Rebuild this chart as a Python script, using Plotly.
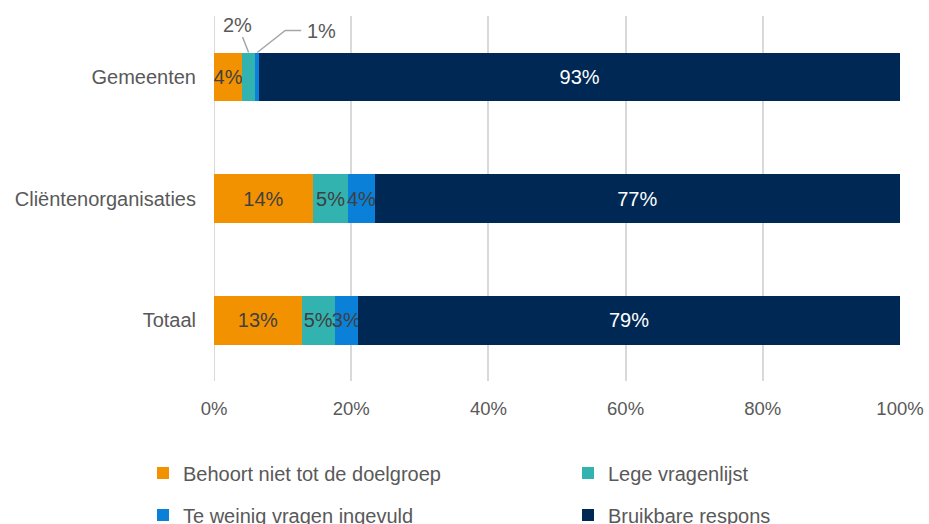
import plotly.graph_objects as go

# data (percentages)
categories = ['Gemeenten', 'Cliëntenorganisaties', 'Totaal']
behoort_niet = [4.1, 14.4, 12.8]
lege_lijst = [1.9, 5.2, 4.8]
te_weinig = [0.6, 3.8, 3.4]
bruikbaar = [93.4, 76.6, 79.0]

series = [
    ('Behoort niet tot de doelgroep', behoort_niet, '#F39200', '#404040', 'legend'),
    ('Lege vragenlijst', lege_lijst, '#33B3AF', '#404040', 'legend2'),
    ('Te weinig vragen ingevuld', te_weinig, '#0A80D8', '#404040', 'legend3'),
    ('Bruikbare respons', bruikbaar, '#002855', '#FFFFFF', 'legend4'),
]

FONT = 'Liberation Sans, Arial, sans-serif'
GREY = '#595959'
LINE = '#A6A6A6'

fig = go.Figure()
for name, vals, color, txtcolor, leg in series:
    # tiny Gemeenten segments get callout labels instead of inside text
    labels = []
    for cat, v in zip(categories, vals):
        if cat == 'Gemeenten' and v < 3:
            labels.append('')
        else:
            labels.append(f'{round(v)}%')
    fig.add_trace(go.Bar(
        y=categories,
        x=vals,
        name=name,
        orientation='h',
        marker_color=color,
        marker_line_width=0,
        text=labels,
        textposition='inside',
        insidetextanchor='middle',
        textangle=0,
        constraintext='none',
        textfont=dict(size=20, color=txtcolor, family=FONT),
        legend=leg,
        hoverinfo='skip',
    ))

# callouts for the small Gemeenten segments
x_lege = behoort_niet[0] + lege_lijst[0] / 2
x_weinig = behoort_niet[0] + lege_lijst[0] + te_weinig[0] / 2
fig.add_annotation(x=x_lege, y=-0.2, text=f'{round(lege_lijst[0])}%',
                   showarrow=True, arrowhead=0, arrowwidth=1.5, arrowcolor=LINE,
                   ax=-11, ay=-28, font=dict(size=20, color=GREY, family=FONT))
# elbow leader line for the 1% label
fig.add_shape(type='path', xref='x', yref='y', xsizemode='pixel', ysizemode='pixel',
              xanchor=x_weinig, yanchor=-0.2, path='M0,0 L28,22 L44,22',
              line=dict(color=LINE, width=1.5))
fig.add_annotation(x=x_weinig, y=-0.2, text=f'{round(te_weinig[0])}%',
                   showarrow=False, xanchor='left', xshift=48, yshift=22,
                   font=dict(size=20, color=GREY, family=FONT))


def legend_box(x, y):
    return dict(orientation='h', xref='container', yref='container',
                x=x, y=y, xanchor='left', yanchor='middle',
                bgcolor='rgba(0,0,0,0)',
                font=dict(size=20, color=GREY, family=FONT), itemclick=False)


fig.update_layout(
    barmode='stack',
    bargap=0.6,
    width=929, height=524,
    margin=dict(l=214, r=29, t=16, b=143),
    paper_bgcolor='white',
    plot_bgcolor='white',
    font=dict(family=FONT, color=GREY, size=20),
    xaxis=dict(range=[0, 100], tickvals=[0, 20, 40, 60, 80, 100],
               ticktext=['0%', '20%', '40%', '60%', '80%', '100%'],
               showgrid=True, gridcolor='#D9D9D9', gridwidth=2,
               zeroline=False, showline=False, automargin=False,
               tickfont=dict(size=18.5, color=GREY), ticklabelstandoff=14,
               fixedrange=True),
    yaxis=dict(autorange='reversed', showgrid=False, zeroline=False,
               automargin=False,
               tickfont=dict(size=20, color=GREY), ticklabelstandoff=17,
               fixedrange=True),
    legend=legend_box(143 / 929, 1 - 473 / 524),
    legend2=legend_box(568 / 929, 1 - 473 / 524),
    legend3=legend_box(143 / 929, 1 - 515 / 524),
    legend4=legend_box(568 / 929, 1 - 515 / 524),
    showlegend=True,
)
# y-axis baseline at 0%
fig.add_shape(type='line', xref='x', yref='paper', x0=0, x1=0, y0=0, y1=1,
              line=dict(color='#D9D9D9', width=2), layer='below')

fig.write_html('out.html', config={'displayModeBar': False},
               post_script="document.body.style.margin='0';")
